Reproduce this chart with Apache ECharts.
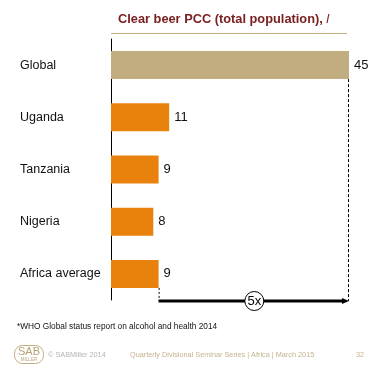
<!DOCTYPE html>
<html><head><meta charset="utf-8">
<script src="https://cdn.jsdelivr.net/npm/echarts@6/dist/echarts.min.js"></script>
<style>html,body{margin:0;padding:0;background:#fff}#c{width:380px;height:369px}</style>
</head><body><div id="c"></div>
<script>
var categories = ['Global', 'Uganda', 'Tanzania', 'Nigeria', 'Africa average'];
var values = [45, 11, 9, 8, 9];
var barColors = ['#C1AD80', '#E8820C', '#E8820C', '#E8820C', '#E8820C'];
var multiplierLabel = '5x';
var FONT = '"Liberation Sans", Arial, sans-serif';

var chart = echarts.init(document.getElementById('c'), null, {renderer: 'canvas'});
chart.setOption({
  animation: false,
  textStyle: {fontFamily: FONT},
  grid: {left: 111, right: 31, top: 39, bottom: 69, containLabel: false},
  xAxis: {type: 'value', min: 0, max: 45, show: false},
  yAxis: {
    type: 'category', data: categories, inverse: true,
    axisLine: {show: true, lineStyle: {color: '#000', width: 1}},
    axisTick: {show: false},
    axisLabel: {align: 'left', margin: 91, color: '#111', fontSize: 12.5, fontFamily: FONT}
  },
  series: [{
    type: 'bar', barWidth: 28,
    data: values.map(function (v, i) { return {value: v, itemStyle: {color: barColors[i]}}; }),
    label: {show: true, position: 'right', distance: 5, color: '#111', fontSize: 13, fontFamily: FONT}
  }]
});

var xMax = chart.convertToPixel({gridIndex: 0}, [values[0], 0])[0];
var xAfr = chart.convertToPixel({gridIndex: 0}, [values[4], 0])[0];
var yGlobalBottom = chart.convertToPixel({gridIndex: 0}, [0, 0])[1] + 14;
var yAfrBottom = chart.convertToPixel({gridIndex: 0}, [0, 4])[1] + 14;
var yArrow = 301;
var xMid = (xMax + xAfr) / 2 + 0.5;

chart.setOption({graphic: [
  {type: 'text', left: 118, top: 13, style: {
    text: '{a|Clear beer PCC (total population), }{b|l}',
    rich: {a: {fontSize: 12.8, fontWeight: 'bold', fill: '#7B2020', fontFamily: FONT},
           b: {fontSize: 12.8, fontStyle: 'italic', fill: '#7B2020', fontFamily: FONT}}
  }},
  {type: 'line', shape: {x1: 111, y1: 33.5, x2: 347, y2: 33.5}, style: {stroke: '#C1AD80', lineWidth: 1}},
  {type: 'line', shape: {x1: xMax - 0.5, y1: yGlobalBottom, x2: xMax - 0.5, y2: yArrow}, style: {stroke: '#000', lineWidth: 1, lineDash: [3, 2]}},
  {type: 'line', shape: {x1: xAfr + 0.5, y1: yAfrBottom, x2: xAfr + 0.5, y2: yArrow}, style: {stroke: '#000', lineWidth: 1, lineDash: [2, 2]}},
  {type: 'line', shape: {x1: xAfr, y1: yArrow, x2: xMax - 5, y2: yArrow}, style: {stroke: '#000', lineWidth: 3}},
  {type: 'polygon', shape: {points: [[xMax, yArrow], [xMax - 7, yArrow - 3], [xMax - 7, yArrow + 3]]}, style: {fill: '#000'}},
  {type: 'circle', shape: {cx: xMid, cy: yArrow, r: 9.5}, style: {fill: '#fff', stroke: '#000', lineWidth: 1}},
  {type: 'text', x: xMid, y: yArrow + 0.5, style: {text: multiplierLabel, fontSize: 13, fill: '#000', align: 'center', verticalAlign: 'middle', fontFamily: FONT}},
  {type: 'text', left: 17, top: 323, style: {text: '*WHO Global status report on alcohol and health 2014', fontSize: 8.3, fill: '#111', fontFamily: FONT}},
  {type: 'rect', shape: {x: 14.5, y: 345.5, width: 29, height: 18, r: 8}, style: {fill: '#fff', stroke: '#C1AD80', lineWidth: 1}},
  {type: 'text', x: 29, y: 351.5, style: {text: 'SAB', fontSize: 11, fill: '#B8A276', align: 'center', verticalAlign: 'middle', fontFamily: FONT}},
  {type: 'text', x: 29, y: 359.5, style: {text: 'MILLER', fontSize: 4.5, fill: '#B8A276', align: 'center', verticalAlign: 'middle', fontFamily: FONT}},
  {type: 'text', left: 48, top: 351, style: {text: '© SABMiller 2014', fontSize: 7.3, fill: '#B5B5B5', fontFamily: FONT}},
  {type: 'text', left: 130, top: 351, style: {text: 'Quarterly Divisional Seminar Series | Africa | March 2015', fontSize: 7.3, fill: '#C4B48E', fontFamily: FONT}},
  {type: 'text', left: 356, top: 351, style: {text: '32', fontSize: 7.3, fill: '#C4B48E', fontFamily: FONT}}
]});
</script></body></html>
